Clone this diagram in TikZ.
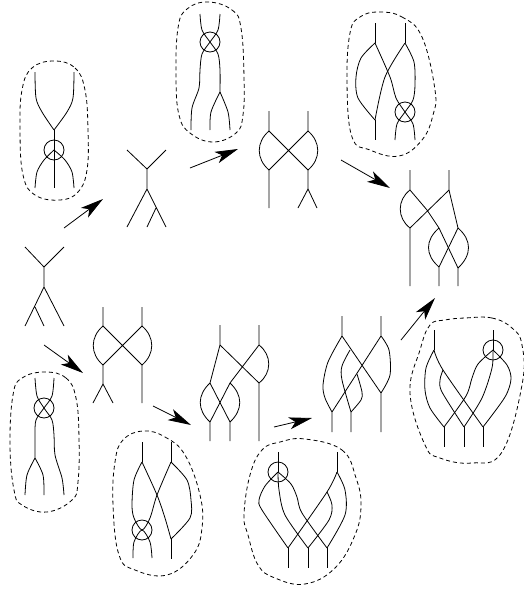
\documentclass[tikz,border=0pt]{standalone}
\usetikzlibrary{arrows.meta}
\tikzset{
  strand/.style={line width=0.8pt},
  bubble/.style={line width=0.8pt,dash pattern=on 4pt off 3pt,tension=0.7},
  flow/.style={line width=0.8pt,-{Stealth[length=23pt,width=12pt,inset=6pt]}}
}
\begin{document}
\begin{tikzpicture}[x=1pt,y=-1pt,line cap=butt,line join=round]
  \useasboundingbox (0,0) rectangle (524,590);
  % flow arrows
  \draw[flow] (64,228) -- (103,199);
  \draw[flow] (190,168) -- (238,149);
  \draw[flow] (341,160) -- (390,188);
  \draw[flow] (44,345) -- (83,373);
  \draw[flow] (153,406) -- (191,425);
  \draw[flow] (274,427) -- (312,418);
  \draw[flow] (401,340) -- (435,298);
  % dashed bubbles
  \draw[bubble] plot[smooth cycle] coordinates {(54,61) (75,68) (85,90) (88,130) (87,170) (78,192) (60,200) (35,195) (23,175) (20,130) (22,90) (32,68)};
  \draw[bubble] plot[smooth cycle] coordinates {(208,2) (232,10) (241,28) (244,77) (243,115) (236,133) (213,142) (190,133) (179,115) (176,77) (178,28) (187,9)};
  \draw[bubble] plot[smooth cycle] coordinates {(45,372) (66,378) (76,398) (79,438) (78,482) (72,500) (47,512) (22,505) (14,490) (10,445) (13,395) (22,378)};
  \draw[bubble] plot[smooth cycle] coordinates {(143,431) (165,437) (185,455) (200,495) (202,528) (193,555) (167,575) (135,570) (119,555) (113,505) (115,462) (123,440)};
  \draw[bubble] plot[smooth cycle] coordinates {(379,12) (402,17) (422,37) (435,90) (433,115) (422,140) (399,156) (370,150) (352,137) (347,83) (350,33) (360,17)};
  \draw[bubble] plot[smooth cycle] coordinates {(465,318) (492,318) (512,328) (522,345) (522,385) (502,452) (472,463) (440,458) (425,445) (410,393) (420,350) (430,325) (445,320)};
  \draw[bubble] plot[smooth cycle] coordinates {(305,439) (342,450) (356,478) (361,505) (355,535) (335,568) (305,584) (275,578) (258,565) (248,535) (244,515) (250,475) (262,450) (280,442)};
  % tree on the far left
  \draw[strand] (25,247) -- (44,267) -- (64,247) (44,267) -- (44,287) (25,326) -- (44,287) -- (64,326) (35,307) -- (44,326);
  % tree next to it
  \draw[strand] (127,150) -- (147,169) -- (166,150) (147,169) -- (147,189) (127,227) -- (147,189) -- (166,227) (156,208) -- (147,227);
  % bubble, upper left
  \draw[strand] plot[smooth] coordinates {(35,72) (36,98) (42,112) (54,130)};
  \draw[strand] plot[smooth] coordinates {(74,72) (73,98) (67,112) (54,130)};
  \draw[strand] (54,130) -- (54,188);
  \draw[strand] (54,150) circle (10);
  \draw[strand] plot[smooth] coordinates {(35,188) (37,172) (44,160) (54,150)};
  \draw[strand] plot[smooth] coordinates {(74,188) (72,172) (65,160) (54,150)};
  % bubble, top
  \draw[strand] plot[smooth] coordinates {(200,14) (202,30) (210,42) (218,54) (220,70) (220,92)};
  \draw[strand] plot[smooth] coordinates {(220,14) (218,30) (210,42) (202,54) (200,70) (199,88) (192,108) (191,130)};
  \draw[strand] (210,42) circle (10);
  \draw[strand] plot[smooth] coordinates {(210,130) (211,112) (220,92)};
  \draw[strand] plot[smooth] coordinates {(230,130) (228,112) (220,92)};
  % crossing, top middle
  \draw[strand] (269,111) -- (269,131) -- (308,170) -- (308,189) (308,111) -- (308,131) -- (269,170) -- (269,208);
  \draw[strand] (298,208) -- (308,189) -- (317,208);
  \draw[strand] (269,131) .. controls (256,142) and (256,159) .. (269,170);
  \draw[strand] (308,131) .. controls (321,142) and (321,159) .. (308,170);
  % bubble, top right
  \draw[strand] (375,23) -- (375,43) (405,23) -- (405,43) (375,120) -- (375,140);
  \draw[strand] plot[smooth] coordinates {(375,43) (361,58) (356,77) (358,98) (375,120)};
  \draw[strand] plot[smooth] coordinates {(405,43) (385,77) (375,120)};
  \draw[strand] plot[smooth] coordinates {(375,43) (390,77) (396,98) (405,112) (413,124) (415,140)};
  \draw[strand] plot[smooth] coordinates {(405,43) (414,62) (415,85) (413,100) (405,112) (397,124) (395,140)};
  \draw[strand] (405,112) circle (10);
  % right column
  \draw[strand] (410,170) -- (410,190) -- (427,210) -- (439,228) -- (458,268) -- (458,286);
  \draw[strand] (449,170) -- (449,190) -- (410,228) -- (410,286);
  \draw[strand] (449,190) -- (458,228) -- (439,267) -- (439,286);
  \draw[strand] (410,190) .. controls (397,200) and (397,218) .. (410,228);
  \draw[strand] (439,228) .. controls (425,240) and (425,255) .. (439,267);
  \draw[strand] (458,228) .. controls (472,240) and (472,255) .. (458,268);
  % bubble, lower left
  \draw[strand] plot[smooth] coordinates {(35,378) (37,396) (44,408) (52,420) (54,435) (55,455) (62,478) (64,495)};
  \draw[strand] plot[smooth] coordinates {(54,378) (52,396) (44,408) (36,420) (35,435) (35,458)};
  \draw[strand] (44,408) circle (10);
  \draw[strand] plot[smooth] coordinates {(25,495) (27,475) (35,458)};
  \draw[strand] plot[smooth] coordinates {(44,495) (43,475) (35,458)};
  % crossing, lower left
  \draw[strand] (103,307) -- (103,326) -- (142,365) -- (142,403) (142,307) -- (142,326) -- (103,365) -- (103,384);
  \draw[strand] (93,403) -- (103,384) -- (113,403);
  \draw[strand] (103,326) .. controls (90,337) and (90,354) .. (103,365);
  \draw[strand] (142,326) .. controls (155,337) and (155,354) .. (142,365);
  % bubble, lower centre left
  \draw[strand] (142,442) -- (142,462) (171,442) -- (171,462) (171,539) -- (171,559);
  \draw[strand] plot[smooth] coordinates {(142,462) (134,480) (132,505) (134,518) (142,530) (150,518) (157,495) (171,462)};
  \draw[strand] plot[smooth] coordinates {(142,462) (157,495) (165,518) (171,539)};
  \draw[strand] plot[smooth] coordinates {(171,462) (187,480) (191,500) (190,518) (171,539)};
  \draw[strand] (142,530) circle (10);
  \draw[strand] plot[smooth] coordinates {(133,558) (134,542) (142,530) (150,542) (152,558)};
  % middle, four strands
  \draw[strand] (220,325) -- (220,345) -- (259,383) -- (259,441) (259,325) -- (259,345) -- (230,383) -- (210,422) -- (210,441);
  \draw[strand] (220,345) -- (210,383) -- (230,422) -- (230,441);
  \draw[strand] (210,383) .. controls (197,395) and (197,410) .. (210,422);
  \draw[strand] (230,383) .. controls (243,395) and (243,410) .. (230,422);
  \draw[strand] (259,345) .. controls (272,355) and (272,373) .. (259,383);
  % three strands, lower middle
  \draw[strand] (342,316) -- (342,336) -- (381,393) -- (381,432) (381,316) -- (381,336) -- (332,412) -- (332,432) (351,412) -- (351,432);
  \draw[strand] plot[smooth] coordinates {(342,336) (328,362) (323,385) (325,398) (332,412)};
  \draw[strand] plot[smooth] coordinates {(350,350) (342,366) (342,380) (351,412)};
  \draw[strand] plot[smooth] coordinates {(357,374) (362,392) (361,400) (351,412)};
  \draw[strand] plot[smooth] coordinates {(381,336) (389,350) (390,375) (381,393)};
  % bubble, bottom middle
  \draw[strand] (278,452) -- (278,472) (337,452) -- (337,472) (288,548) -- (288,568) (308,548) -- (308,568) (327,548) -- (327,568);
  \draw[strand] (278,472) circle (10);
  \draw[strand] plot[smooth] coordinates {(278,472) (265,486) (259,500) (262,510) (288,548)};
  \draw[strand] plot[smooth] coordinates {(278,472) (291,484) (297,497) (302,513) (327,548)};
  \draw[strand] plot[smooth] coordinates {(278,472) (279,490) (285,515) (308,548)};
  \draw[strand] plot[smooth] coordinates {(337,472) (327,492) (288,548)};
  \draw[strand] plot[smooth] coordinates {(337,472) (345,490) (345,515) (327,548)};
  \draw[strand] plot[smooth] coordinates {(327,492) (332,505) (329,520) (308,548)};
  % bubble, right
  \draw[strand] (434,330) -- (434,350) (493,330) -- (493,350) (444,427) -- (444,447) (464,427) -- (464,447) (483,427) -- (483,447);
  \draw[strand] (493,350) circle (10);
  \draw[strand] plot[smooth] coordinates {(434,350) (426,368) (425,390) (430,408) (444,427)};
  \draw[strand] plot[smooth] coordinates {(434,350) (443,370) (483,427)};
  \draw[strand] plot[smooth] coordinates {(443,370) (440,380) (442,392) (464,427)};
  \draw[strand] plot[smooth] coordinates {(493,350) (492,368) (482,398) (464,427)};
  \draw[strand] plot[smooth] coordinates {(493,350) (478,364) (472,378) (466,396) (444,427)};
  \draw[strand] plot[smooth] coordinates {(493,350) (507,365) (511,379) (505,397) (483,427)};
\end{tikzpicture}
\end{document}
